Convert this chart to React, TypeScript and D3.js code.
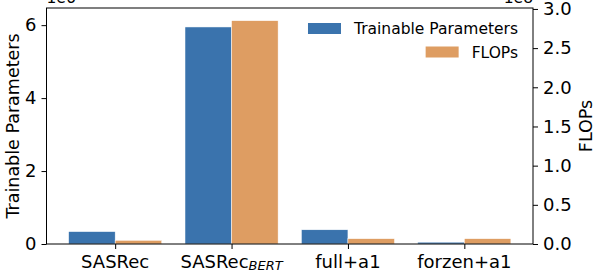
import React, { useEffect, useRef } from "react";
import * as d3 from "d3";

// data
const categories = ["SASRec", "SASRec_BERT", "full+a1", "forzen+a1"];
const trainableParams = [0.34, 5.95, 0.39, 0.05]; // x 1e6
const flops = [0.047, 2.85, 0.068, 0.068]; // x 1e8
const leftTicks = [0, 2, 4, 6];
const rightTicks = [0, 0.5, 1.0, 1.5, 2.0, 2.5, 3.0];

const BLUE = "#3a73ad";
const ORANGE = "#de9d62";
const FONT = "DejaVu Sans, sans-serif";

export default function App() {
  const svgRef = useRef<SVGSVGElement>(null);

  useEffect(() => {
    const svg = d3.select(svgRef.current);
    svg.selectAll("*").remove();

    const margin = { top: 8, right: 65, bottom: 30, left: 46.5 };
    const width = 598;
    const height = 274;
    const plotBottom = 244;

    const x = d3.scaleLinear().domain([-0.59, 3.59]).range([margin.left, width - margin.right]);
    const yL = d3.scaleLinear().domain([0, 6.47]).range([plotBottom, margin.top]);
    const yR = d3.scaleLinear().domain([0, 3.012]).range([plotBottom, margin.top]);

    const barW = 0.4;

    // bars
    svg.append("g")
      .selectAll("rect")
      .data(trainableParams)
      .enter()
      .append("rect")
      .attr("x", (d, i) => x(i - barW))
      .attr("width", x(barW) - x(0))
      .attr("y", (d) => yL(d))
      .attr("height", (d) => plotBottom - yL(d))
      .attr("fill", BLUE)
      .attr("stroke", "white")
      .attr("stroke-width", 0.5);

    svg.append("g")
      .selectAll("rect")
      .data(flops)
      .enter()
      .append("rect")
      .attr("x", (d, i) => x(i))
      .attr("width", x(barW) - x(0))
      .attr("y", (d) => yR(d))
      .attr("height", (d) => plotBottom - yR(d))
      .attr("fill", ORANGE)
      .attr("stroke", "white")
      .attr("stroke-width", 0.5);

    // left axis
    const left = d3.axisLeft(yL).tickValues(leftTicks).tickSize(5).tickPadding(5).tickFormat(d3.format("d"));
    const gL = svg.append("g").attr("transform", `translate(${margin.left},0)`).call(left);
    gL.select(".domain").remove();

    // right axis
    const right = d3.axisRight(yR).tickValues(rightTicks).tickSize(5).tickPadding(5).tickFormat(d3.format(".1f"));
    const gR = svg.append("g").attr("transform", `translate(${width - margin.right},0)`).call(right);
    gR.select(".domain").remove();

    // bottom axis
    const bottom = d3.axisBottom(x).tickValues(categories.map((c, i) => i)).tickSize(5).tickFormat(() => "");
    const gB = svg.append("g").attr("transform", `translate(0,${plotBottom})`).call(bottom);
    gB.select(".domain").remove();

    [gL, gR, gB].forEach((g) => {
      g.selectAll(".tick line").attr("stroke", "#000").attr("stroke-width", 1);
      g.selectAll(".tick text").attr("fill", "#000").style("font-family", FONT).style("font-size", "18px");
    });

    // category labels (with subscript)
    categories.forEach((c, i) => {
      const t = svg.append("text")
        .attr("x", x(i))
        .attr("y", 268)
        .attr("text-anchor", "middle")
        .style("font-family", FONT)
        .style("font-size", "18px");
      const parts = c.split("_");
      t.append("tspan").text(parts[0]);
      if (parts[1]) {
        t.append("tspan")
          .text(parts[1])
          .attr("dy", 2)
          .style("font-size", "13px")
          .style("font-style", "italic");
      }
    });

    // spines
    svg.append("rect")
      .attr("x", margin.left)
      .attr("y", margin.top)
      .attr("width", width - margin.right - margin.left)
      .attr("height", plotBottom - margin.top)
      .attr("fill", "none")
      .attr("stroke", "#000")
      .attr("stroke-width", 1);

    // axis labels
    svg.append("text")
      .attr("transform", `translate(19,${(margin.top + plotBottom) / 2}) rotate(-90)`)
      .attr("text-anchor", "middle")
      .style("font-family", FONT)
      .style("font-size", "17.5px")
      .text("Trainable Parameters");

    svg.append("text")
      .attr("transform", `translate(592,${(margin.top + plotBottom) / 2}) rotate(-90)`)
      .attr("text-anchor", "middle")
      .style("font-family", FONT)
      .style("font-size", "17.5px")
      .text("FLOPs");

    // offset texts (clipped at the top edge)
    svg.append("text")
      .attr("x", margin.left)
      .attr("y", 3)
      .style("font-family", FONT)
      .style("font-size", "15.5px")
      .text("1e6");
    svg.append("text")
      .attr("x", width - margin.right)
      .attr("y", 3)
      .attr("text-anchor", "end")
      .style("font-family", FONT)
      .style("font-size", "15.5px")
      .text("1e8");

    // legends
    const legendItems = [
      { label: "Trainable Parameters", color: BLUE, cy: 28.5 },
      { label: "FLOPs", color: ORANGE, cy: 52 },
    ];
    legendItems.forEach((it) => {
      const txt = svg.append("text")
        .attr("x", 518)
        .attr("y", it.cy + 5.5)
        .attr("text-anchor", "end")
        .style("font-family", FONT)
        .style("font-size", "15.5px")
        .text(it.label);
      const w = (txt.node() as SVGTextElement).getComputedTextLength();
      svg.append("rect")
        .attr("x", 518 - w - 13 - 33)
        .attr("y", it.cy - 5.5)
        .attr("width", 33)
        .attr("height", 11)
        .attr("fill", it.color);
    });
  }, []);

  return (
    <svg
      ref={svgRef}
      width={598}
      height={274}
      style={{ position: "absolute", left: 0, top: 0, background: "white" }}
    />
  );
}
